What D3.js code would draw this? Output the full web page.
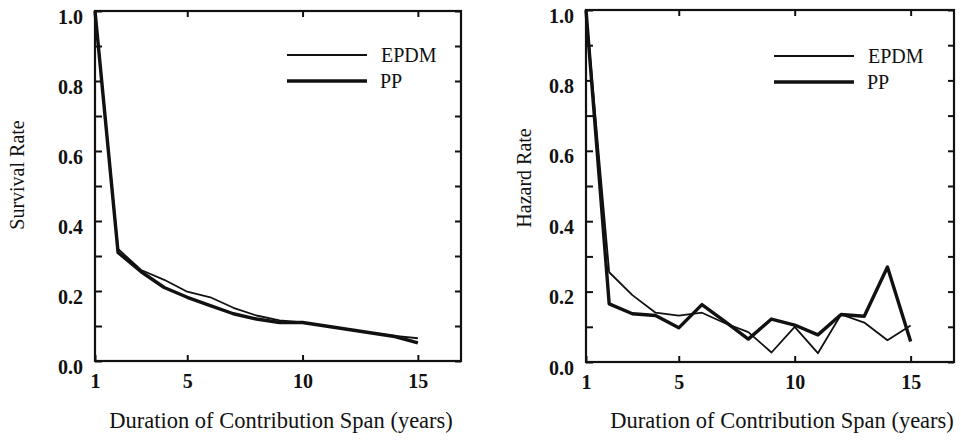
<!DOCTYPE html>
<html>
<head>
<meta charset="utf-8">
<script src="https://cdn.jsdelivr.net/npm/d3@7"></script>
<style>
  body { margin: 0; background: #fff; }
  svg { display: block; }
  text { font-family: "Liberation Serif", "DejaVu Serif", serif; fill: #111; }
</style>
</head>
<body>
<div id="chart"></div>
<script>
// años de la duración
const years = [1, 2, 3, 4, 5, 6, 7, 8, 9, 10, 11, 12, 13, 14, 15];
const survivalEPDM = [1.0, 0.32, 0.26, 0.232, 0.198, 0.182, 0.152, 0.13, 0.116, 0.11, 0.1, 0.09, 0.08, 0.072, 0.065];
const survivalPP   = [1.0, 0.31, 0.255, 0.21, 0.182, 0.158, 0.135, 0.12, 0.11, 0.11, 0.1, 0.09, 0.08, 0.07, 0.052];
const hazardEPDM = [1.0, 0.255, 0.19, 0.14, 0.132, 0.14, 0.11, 0.085, 0.027, 0.1, 0.025, 0.135, 0.112, 0.062, 0.104];
const hazardPP   = [1.0, 0.165, 0.137, 0.132, 0.097, 0.163, 0.115, 0.065, 0.122, 0.105, 0.077, 0.135, 0.13, 0.27, 0.058];
const xTicks = [1, 5, 10, 15];
const yTickLabels = [0, 0.2, 0.4, 0.6, 0.8, 1.0];
const yTicksMinor = d3.range(0, 11).map(d => d / 10);
const seriesNames = ['EPDM', 'PP'];
const xTitle = 'Duration of Contribution Span (years)';

const width = 961, height = 440;
const svg = d3.select('#chart').append('svg')
  .attr('width', width)
  .attr('height', height);

function drawPanel(p) {
  const x = d3.scaleLinear().domain([1, 16.87]).range([p.left, p.right]);
  const y = d3.scaleLinear().domain([0, 1]).range([p.bottom, p.top]);
  const g = svg.append('g');

  // --- ejes con marcas hacia dentro ---
  const fmt = d => d.toFixed(1);
  g.append('g')
    .attr('transform', `translate(${p.left},0)`)
    .call(d3.axisLeft(y).tickValues(yTicksMinor).tickSize(-7).tickFormat(''))
    .call(a => a.select('.domain').remove());
  g.append('g')
    .attr('transform', `translate(${p.left},0)`)
    .call(d3.axisLeft(y).tickValues(yTickLabels).tickSize(0).tickPadding(12).tickFormat(fmt))
    .call(a => a.select('.domain').remove())
    .call(a => a.selectAll('text').attr('font-size', 20).attr('font-weight', 'bold').attr('dy', '0.6em'));
  g.append('g')
    .attr('transform', `translate(${p.right},0)`)
    .call(d3.axisRight(y).tickValues(yTicksMinor).tickSize(-6).tickFormat(''))
    .call(a => a.select('.domain').remove());
  g.append('g')
    .attr('transform', `translate(0,${p.bottom})`)
    .call(d3.axisBottom(x).tickValues(xTicks).tickSize(-6).tickPadding(13).tickFormat(d3.format('d')))
    .call(a => a.select('.domain').remove())
    .call(a => a.selectAll('text').attr('font-size', 20).attr('font-weight', 'bold'));
  g.append('g')
    .attr('transform', `translate(0,${p.top})`)
    .call(d3.axisTop(x).tickValues(xTicks.slice(1)).tickSize(-6).tickFormat(''))
    .call(a => a.select('.domain').remove());
  g.selectAll('.tick line').attr('stroke', '#111').attr('stroke-width', 2);

  // marco
  g.append('rect')
    .attr('x', p.left).attr('y', p.top)
    .attr('width', p.right - p.left).attr('height', p.bottom - p.top)
    .attr('fill', 'none').attr('stroke', '#111').attr('stroke-width', 2.2);

  // --- líneas ---
  const line = d3.line().x((d, i) => x(years[i])).y(d => y(d));
  g.append('path').datum(p.a)
    .attr('fill', 'none').attr('stroke', '#111').attr('stroke-width', 1.8)
    .attr('stroke-linejoin', 'round').attr('d', line);
  g.append('path').datum(p.b)
    .attr('fill', 'none').attr('stroke', '#111').attr('stroke-width', 3.4)
    .attr('stroke-linejoin', 'round').attr('d', line);

  // --- leyenda ---
  seriesNames.forEach((name, i) => {
    const ly = p.legendY + i * 26;
    g.append('line')
      .attr('x1', p.legendX).attr('x2', p.legendX + 80)
      .attr('y1', ly).attr('y2', ly)
      .attr('stroke', '#111').attr('stroke-width', i === 0 ? 1.8 : 3.4);
    g.append('text')
      .attr('x', p.legendX + 94 - (i === 0 ? 0 : 1)).attr('y', ly)
      .attr('dy', '0.35em').attr('font-size', 20)
      .text(name);
  });

  // --- títulos ---
  g.append('text')
    .attr('transform', `translate(${p.yTitleX},${p.yTitleY}) rotate(-90)`)
    .attr('text-anchor', 'middle').attr('dy', '0.35em')
    .attr('font-size', 20)
    .text(p.yTitle);
  g.append('text')
    .attr('x', p.xTitleX).attr('y', 428)
    .attr('text-anchor', 'middle')
    .attr('font-size', 22.5)
    .text(xTitle);
}

drawPanel({ left: 95, right: 461, top: 11, bottom: 361, a: survivalEPDM, b: survivalPP,
  yTitle: 'Survival Rate', yTitleX: 17, yTitleY: 175, xTitleX: 281, legendX: 287, legendY: 55 });
drawPanel({ left: 586, right: 954, top: 10, bottom: 362, a: hazardEPDM, b: hazardPP,
  yTitle: 'Hazard Rate', yTitleX: 524, yTitleY: 178, xTitleX: 782, legendX: 774, legendY: 56 });
</script>
</body>
</html>
